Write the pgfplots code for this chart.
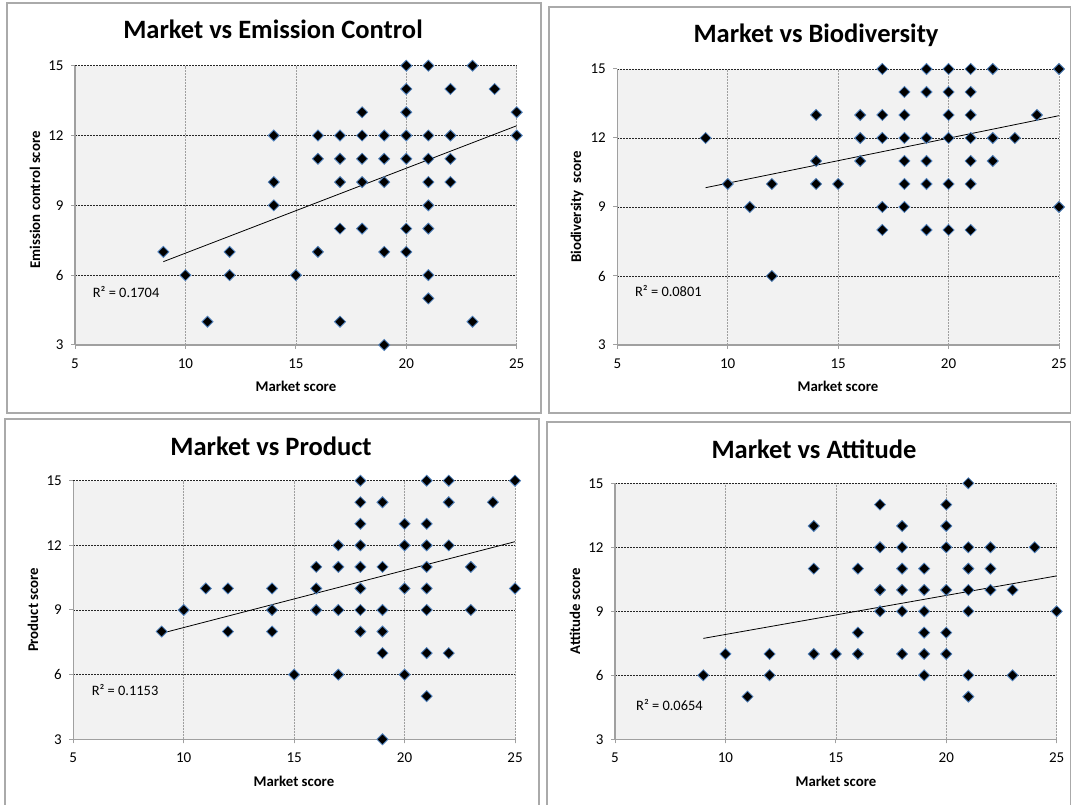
\documentclass[border=0pt]{standalone}
\usepackage{fontspec}
\setmainfont{Carlito}
\usepackage{pgfplots}
\pgfplotsset{compat=1.18}
\definecolor{axgray}{RGB}{160,160,160}
\definecolor{bggray}{RGB}{242,242,242}
\definecolor{bordergray}{RGB}{170,170,170}
\definecolor{markblue}{RGB}{79,129,189}
\pgfplotsset{panel/.style={
  scale only axis, width=441.7pt,
  xmin=5,xmax=25,ymin=3,ymax=15,
  xtick={5,10,15,20,25}, ytick={6,9,12,15},
  extra x ticks={10,15,20,25}, extra x tick labels={},
  extra x tick style={xmajorgrids=true, major grid style={draw=gray!75, dash pattern=on 2pt off 1pt, line width=0.6pt}},
  extra y ticks={3}, extra y tick style={ymajorgrids=false},
  axis x line*=bottom, axis y line*=left,
  axis line style={draw=axgray, line width=1.2pt, -},
  tick style={draw=axgray, line width=1pt},
  tick align=outside, major tick length=4pt,
  axis background/.style={fill=bggray},
  ymajorgrids, major grid style={draw=black!85, dash pattern=on 2pt off 1pt, line width=0.6pt},
  /pgf/number format/assume math mode=true,
  tick label style={font=\fontsize{15}{17}\selectfont, text=black},
  xticklabel style={yshift=-6pt},
  yticklabel style={xshift=-4pt},
  clip=false,
}}
\pgfplotsset{pts/.style={only marks, mark=square*, mark size=3.9pt, mark options={rotate=45, fill=black, draw=markblue, line width=0.8pt}}}
\pgfplotsset{trend/.style={no marks, black, line width=0.8pt}}
\begin{document}
\begin{tikzpicture}[x=1pt,y=1pt]
\useasboundingbox (0,0) rectangle (1073,805);
\fill[white] (0,0) rectangle (1073,805);
% panel borders
\draw[bordergray, line width=1.3pt] (7,802) rectangle (541,392);
\draw[bordergray, line width=1.3pt] (549,798) rectangle (1070.5,392);
\draw[bordergray, line width=1.3pt] (5,386) rectangle (539,-5);
\draw[bordergray, line width=1.3pt] (547,383) rectangle (1070.5,-5);

% Panel 1
\begin{axis}[panel, at={(75pt,460pt)}, anchor=south west, height=279.3pt]
\addplot[pts] coordinates {
(20,15)(21,15)(23,15)
(20,14)(22,14)(24,14)
(18,13)(20,13)(25,13)
(14,12)(16,12)(17,12)(18,12)(19,12)(20,12)(21,12)(22,12)(25,12)
(16,11)(17,11)(18,11)(19,11)(20,11)(21,11)(22,11)
(14,10)(17,10)(18,10)(19,10)(21,10)(22,10)
(14,9)(21,9)
(17,8)(18,8)(20,8)(21,8)
(9,7)(12,7)(16,7)(19,7)(20,7)
(10,6)(12,6)(15,6)(21,6)
(21,5)
(11,4)(17,4)(23,4)
(19,3)};
\addplot[trend] coordinates {(9,6.58) (25,12.42)};
\node[anchor=west, font=\fontsize{14.4}{17}\selectfont, inner sep=0pt] at (axis cs:5.8,5.29) {R² = 0.1704};
\end{axis}

% Panel 2
\begin{axis}[panel, at={(617.3pt,460pt)}, anchor=south west, height=276pt]
\addplot[pts] coordinates {
(17,15)(19,15)(20,15)(21,15)(22,15)(25,15)
(18,14)(19,14)(20,14)(21,14)
(14,13)(16,13)(17,13)(18,13)(20,13)(21,13)(24,13)
(9,12)(16,12)(17,12)(18,12)(19,12)(20,12)(21,12)(22,12)(23,12)
(14,11)(16,11)(18,11)(19,11)(21,11)(22,11)
(10,10)(12,10)(14,10)(15,10)(18,10)(19,10)(20,10)(21,10)
(11,9)(17,9)(18,9)(25,9)
(17,8)(19,8)(20,8)(21,8)
(12,6)};
\addplot[trend] coordinates {(9,9.84) (25,12.97)};
\node[anchor=west, font=\fontsize{14.4}{17}\selectfont, inner sep=0pt] at (axis cs:5.8,5.36) {R² = 0.0801};
\end{axis}

% Panel 3
\begin{axis}[panel, at={(73.3pt,65.7pt)}, anchor=south west, height=258.6pt]
\addplot[pts] coordinates {
(18,15)(21,15)(22,15)(25,15)
(18,14)(19,14)(22,14)(24,14)
(18,13)(20,13)(21,13)
(17,12)(18,12)(20,12)(21,12)(22,12)
(16,11)(17,11)(18,11)(19,11)(21,11)(23,11)
(11,10)(12,10)(14,10)(16,10)(18,10)(20,10)(21,10)(25,10)
(10,9)(14,9)(16,9)(17,9)(18,9)(19,9)(21,9)(23,9)
(9,8)(12,8)(14,8)(18,8)(19,8)
(19,7)(21,7)(22,7)
(15,6)(17,6)(20,6)
(21,5)
(19,3)};
\addplot[trend] coordinates {(9,7.92) (25,12.17)};
\node[anchor=west, font=\fontsize{14.4}{17}\selectfont, inner sep=0pt] at (axis cs:5.83,5.29) {R² = 0.1153};
\end{axis}

% Panel 4
\begin{axis}[panel, at={(615pt,65.7pt)}, anchor=south west, height=256pt]
\addplot[pts] coordinates {
(21,15)
(17,14)(20,14)
(14,13)(18,13)(20,13)
(17,12)(18,12)(20,12)(21,12)(22,12)(24,12)
(14,11)(16,11)(18,11)(19,11)(21,11)(22,11)
(17,10)(18,10)(19,10)(20,10)(21,10)(22,10)(23,10)
(17,9)(18,9)(19,9)(21,9)(25,9)
(16,8)(19,8)(20,8)
(10,7)(12,7)(14,7)(15,7)(16,7)(18,7)(19,7)(20,7)
(9,6)(12,6)(19,6)(21,6)(23,6)
(11,5)(21,5)};
\addplot[trend] coordinates {(9,7.73) (25,10.66)};
\node[anchor=west, font=\fontsize{14.4}{17}\selectfont, inner sep=0pt] at (axis cs:5.95,4.61) {R² = 0.0654};
\end{axis}

% titles
\begin{scope}[every node/.style={font=\fontsize{26.5}{30}\selectfont\bfseries, anchor=base}]
\node at (273,766) {Market vs Emission Control};
\node at (816,762) {Market vs Biodiversity};
\node at (271,349) {Market vs Product};
\node at (814,346) {Market vs Attitude};
\end{scope}
% axis labels
\begin{scope}[every node/.style={font=\fontsize{14.8}{17}\selectfont\bfseries}]
\node at (296,419) {Market score};
\node at (838,419) {Market score};
\node at (294,24) {Market score};
\node at (836,24) {Market score};
\node[rotate=90] at (35,605) {Emission control score};
\node[rotate=90] at (577,598) {Biodiversity\ \ score};
\node[rotate=90] at (33,195) {Product score};
\node[rotate=90] at (575,194) {Attitude score};
\end{scope}
\end{tikzpicture}
\end{document}
